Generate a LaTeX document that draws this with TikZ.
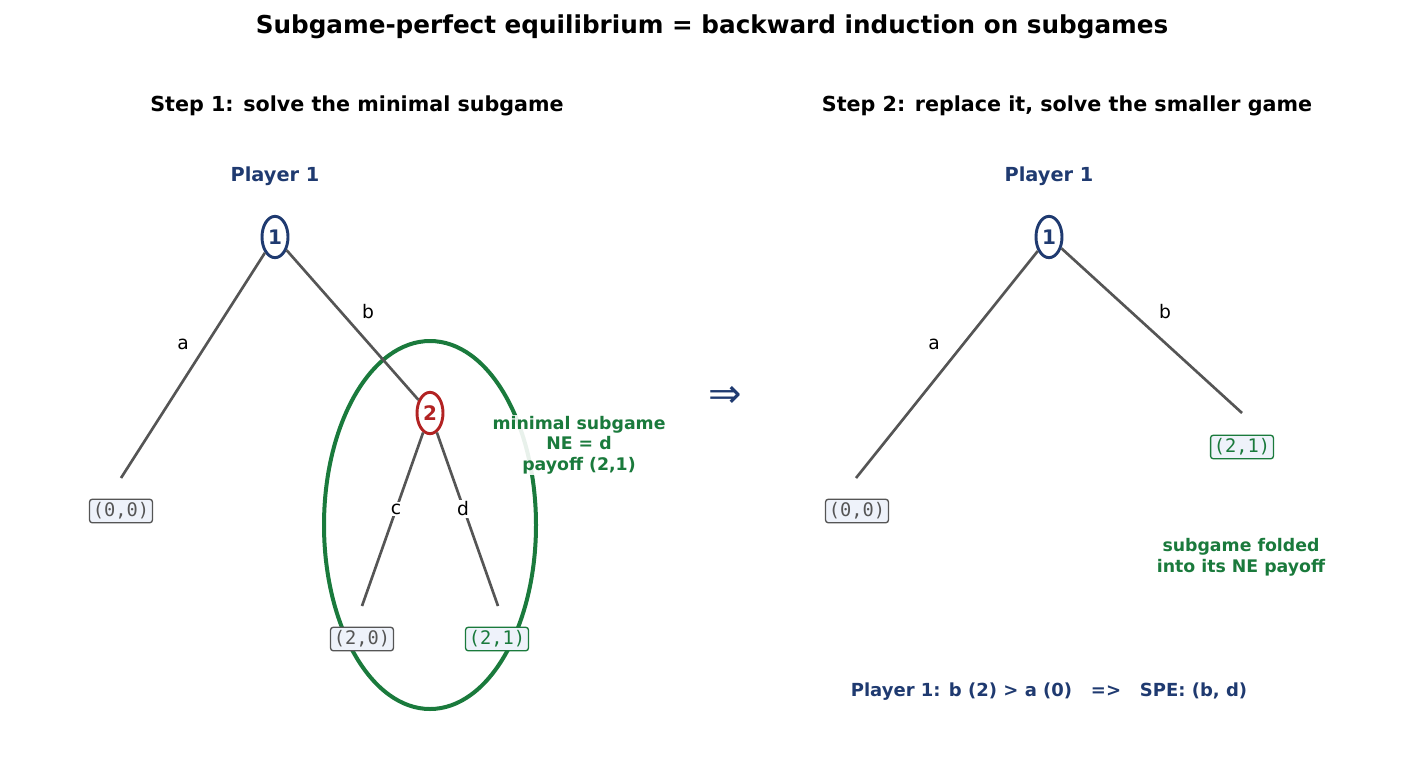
\documentclass[tikz,border=0pt]{standalone}
\usepackage{fontspec}
\setmainfont{DejaVu Sans}
\setmonofont{DejaVu Sans Mono}
\usetikzlibrary{shapes.geometric}
\definecolor{navy}{HTML}{1F3A70}
\definecolor{dred}{HTML}{B22222}
\definecolor{dgreen}{HTML}{1A7A3C}
\definecolor{edge}{HTML}{555555}
\definecolor{boxf}{HTML}{EEF2FA}
\begin{document}
\begin{tikzpicture}[x=0.75pt,y=-0.75pt,
  dec/.style={ellipse,draw=#1,line width=2.2pt,fill=white,text=#1,font=\bfseries\fontsize{15}{15}\selectfont,minimum width=19.5pt,minimum height=31pt,inner sep=0pt},
  br/.style={draw=edge,line width=2pt},
  lab/.style={fill=white,inner sep=1pt,font=\fontsize{14}{16}\selectfont},
  pay/.style={draw=#1,rounded corners=2pt,fill=boxf,text=#1,font=\ttfamily\fontsize{14}{16}\selectfont,inner sep=2.5pt,line width=1pt},
  pay/.default=edge,
  hd/.style={font=\bfseries\fontsize{15.5}{18}\selectfont}]
\useasboundingbox (0,0) rectangle (1424,765);
\node[font=\bfseries\fontsize{18.5}{20}\selectfont] (title) at (712,27) {Subgame-perfect equilibrium = backward induction on subgames};
\node[hd] (h1) at (357,106) {Step 1: solve the minimal subgame};
\node[hd] (h2) at (1067,106) {Step 2: replace it, solve the smaller game};
% left
\node[hd,text=navy,font=\bfseries\fontsize{14.5}{16}\selectfont] (p1) at (275,176) {Player 1};
\draw[dgreen,line width=3pt] (430,525) ellipse [x radius=106, y radius=184];
\node[dec=navy] (r) at (275,237) {1};
\node[dec=dred] (n2) at (430,413) {2};
\coordinate (ea) at (121,478);
\coordinate (ec) at (362,606);
\coordinate (ed) at (498,606);
\draw[br] (r) -- (ea);
\draw[br] (r) -- (n2);
\draw[br] (n2) -- (ec);
\draw[br] (n2) -- (ed);
\node[lab] (la) at (183,344) {a};
\node[lab] (lb) at (368,312) {b};
\node[lab] (lc) at (396,509) {c};
\node[lab] (ld) at (463,509) {d};
\node[pay] (v1) at (121,511) {(0,0)};
\node[pay] (v2) at (362,639) {(2,0)};
\node[pay=dgreen] (v3) at (497,639) {(2,1)};
\node[fill=white,fill opacity=0.9,text opacity=1,text=dgreen,align=center,inner sep=1pt,font=\bfseries\fontsize{13}{15.5}\selectfont] (ms) at (579,445) {minimal subgame\\NE = d\\payoff (2,1)};
\node[text=navy,font=\fontsize{30}{30}\selectfont] (arr) at (725,397) {⇒};
% right
\node[hd,text=navy,font=\bfseries\fontsize{14.5}{16}\selectfont] (p1b) at (1049,176) {Player 1};
\node[dec=navy] (r2) at (1049,237) {1};
\coordinate (fa) at (856,478);
\coordinate (fb) at (1242,413);
\draw[br] (r2) -- (fa);
\draw[br] (r2) -- (fb);
\node[lab] (la2) at (934,344) {a};
\node[lab] (lb2) at (1165,312) {b};
\node[pay] (w1) at (857,511) {(0,0)};
\node[pay=dgreen] (w2) at (1242,447) {(2,1)};
\node[text=dgreen,align=center,font=\bfseries\fontsize{13}{15.5}\selectfont] (fold) at (1241,557) {subgame folded\\into its NE payoff};
\node[text=navy,font=\bfseries\fontsize{13.5}{16}\selectfont] (res) at (1049,692) {Player 1: b (2) > a (0) \ \ => \ \ SPE: (b, d)};
\end{tikzpicture}
\end{document}
